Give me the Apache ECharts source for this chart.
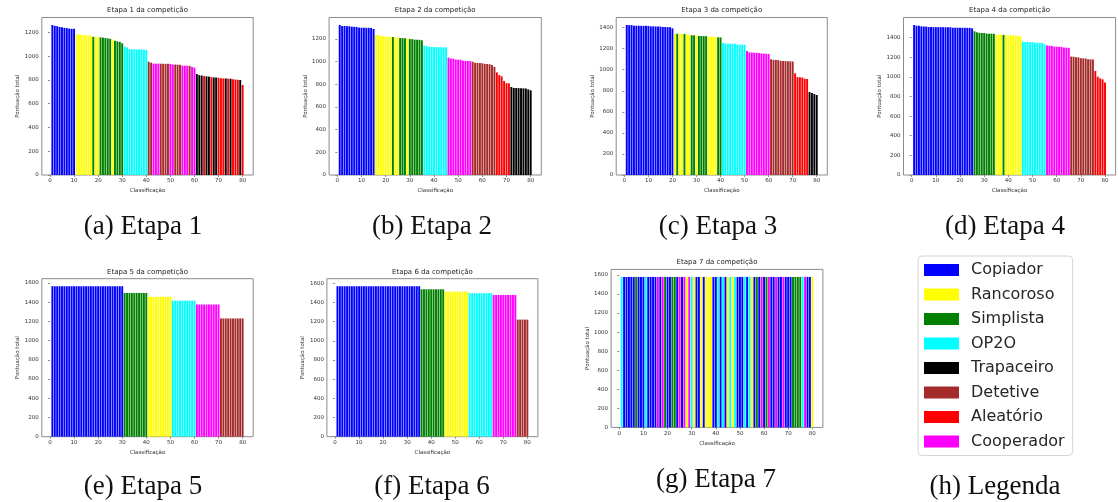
<!DOCTYPE html>
<html><head><meta charset="utf-8">
<script src="https://cdn.jsdelivr.net/npm/echarts@6/dist/echarts.min.js"></script>
<style>html,body{margin:0;padding:0;background:#fff}#c{width:1118px;height:502px}</style>
</head><body><div id="c"></div>
<script>
// ---------------- DATA ----------------
const legendCodes = ['C','R','S','O','T','D','A','K'];
const strategyNames = {C:'Copiador',R:'Rancoroso',S:'Simplista',O:'OP2O',T:'Trapaceiro',D:'Detetive',A:'Aleatório',K:'Cooperador'};
const strategyColors = {C:'#0000ff',R:'#ffff00',S:'#008000',O:'#00ffff',T:'#000000',D:'#a52a2a',A:'#ff0000',K:'#ff00ff'};

const ranks = [1,2,3,4,5,6,7,8,9,10,11,12,13,14,15,16,17,18,19,20,21,22,23,24,25,26,27,28,29,30,31,32,33,34,35,36,37,38,39,40,
  41,42,43,44,45,46,47,48,49,50,51,52,53,54,55,56,57,58,59,60,61,62,63,64,65,66,67,68,69,70,71,72,73,74,75,76,77,78,79,80];
const xTicks = [0,10,20,30,40,50,60,70,80];
const yTicks1200 = [0,200,400,600,800,1000,1200];
const yTicks1400 = [0,200,400,600,800,1000,1200,1400];
const yTicks1600 = [0,200,400,600,800,1000,1200,1400,1600];

const stage1Strategy = ['C','C','C','C','C','C','C','C','C','C',
  'R','R','R','R','R','R','R','S','R','R',
  'S','S','S','S','S','R','S','S','S','S',
  'O','O','O','O','O','O','O','O','O','O',
  'D','D','K','K','K','D','D','D','D','K',
  'K','D','D','D','K','K','K','D','K','K',
  'T','T','T','A','T','T','A','T','T','A',
  'A','A','T','A','T','A','A','A','T','A'];
const stage1Score = [1262,1255,1252,1245,1243,1238,1236,1232,1230,1230,
  1186,1182,1180,1178,1176,1175,1170,1163,1162,1160,
  1158,1156,1152,1150,1146,1140,1130,1125,1120,1108,
  1080,1072,1058,1058,1057,1056,1056,1055,1054,1052,
  953,945,937,937,937,936,936,935,935,934,
  929,929,928,928,920,920,919,918,909,903,
  849,840,837,832,830,828,823,821,820,818,
  814,813,812,811,810,805,803,801,799,757];

const stage2Strategy = ['C','C','C','C','C','C','C','C','C','C',
  'C','C','C','C','C','R','R','R','R','R',
  'R','R','S','R','R','S','S','S','R','S',
  'S','S','S','S','S','O','O','O','O','O',
  'O','O','O','O','O','K','K','K','K','K',
  'K','K','K','K','K','D','D','D','D','D',
  'D','D','D','D','D','A','A','A','A','A',
  'A','T','T','T','T','T','T','T','T','T'];
const stage2Score = [1323,1314,1314,1313,1312,1308,1307,1306,1300,1299,
  1299,1298,1298,1297,1288,1235,1233,1226,1225,1221,
  1220,1219,1217,1214,1213,1208,1207,1206,1205,1199,
  1198,1194,1193,1192,1188,1141,1139,1129,1129,1128,
  1128,1127,1127,1126,1126,1035,1027,1025,1018,1017,
  1016,1008,1007,1006,1005,999,990,988,987,986,
  980,979,977,970,953,905,882,870,829,810,
  808,776,768,767,766,766,764,763,755,747];

const stage3Strategy = ['C','C','C','C','C','C','C','C','C','C',
  'C','C','C','C','C','C','C','C','C','C',
  'R','S','R','R','S','R','R','S','S','R',
  'S','S','S','S','R','R','R','R','S','S',
  'O','O','O','O','O','O','O','O','O','O',
  'K','K','K','K','K','K','K','K','K','K',
  'D','D','D','D','D','D','D','D','D','D',
  'A','A','A','A','A','A','T','T','T','T'];
const stage3Score = [1425,1424,1424,1418,1418,1418,1417,1417,1417,1416,
  1412,1412,1411,1411,1410,1406,1406,1405,1404,1393,
  1343,1342,1342,1341,1340,1336,1334,1328,1327,1326,
  1321,1320,1320,1319,1315,1314,1313,1312,1308,1307,
  1254,1249,1248,1248,1247,1247,1239,1238,1238,1237,
  1178,1165,1163,1162,1161,1160,1155,1153,1152,1150,
  1099,1094,1093,1092,1084,1083,1082,1081,1080,1078,
  966,930,929,926,915,912,788,779,769,760];

const stage4Strategy = ['C','C','C','C','C','C','C','C','C','C',
  'C','C','C','C','C','C','C','C','C','C',
  'C','C','C','C','C','S','S','S','S','S',
  'S','S','S','S','R','R','R','S','R','R',
  'R','R','R','R','R','O','O','O','O','O',
  'O','O','O','O','O','K','K','K','K','K',
  'K','K','K','K','K','D','D','D','D','D',
  'D','D','D','D','D','A','A','A','A','A'];
const stage4Score = [1528,1521,1520,1514,1513,1512,1507,1507,1506,1506,
  1506,1506,1506,1505,1505,1505,1500,1500,1500,1500,
  1500,1499,1499,1499,1494,1464,1454,1448,1447,1446,
  1441,1440,1440,1438,1430,1429,1428,1427,1424,1423,
  1423,1422,1421,1418,1410,1358,1355,1355,1354,1354,
  1348,1347,1347,1345,1331,1318,1317,1316,1308,1307,
  1306,1305,1298,1297,1296,1206,1205,1199,1198,1189,
  1188,1187,1179,1178,1177,1060,1002,985,975,941];

const stage5Strategy = ['C','C','C','C','C','C','C','C','C','C',
  'C','C','C','C','C','C','C','C','C','C',
  'C','C','C','C','C','C','C','C','C','C',
  'S','S','S','S','S','S','S','S','S','S',
  'R','R','R','R','R','R','R','R','R','R',
  'O','O','O','O','O','O','O','O','O','O',
  'K','K','K','K','K','K','K','K','K','K',
  'D','D','D','D','D','D','D','D','D','D'];
const stage5Score = [1565,1565,1565,1565,1565,1565,1565,1565,1565,1565,
  1565,1565,1565,1565,1565,1565,1565,1565,1565,1565,
  1565,1565,1565,1565,1565,1565,1565,1565,1565,1565,
  1495,1495,1495,1495,1495,1495,1495,1495,1495,1495,
  1455,1455,1455,1455,1455,1455,1455,1455,1455,1455,
  1415,1415,1415,1415,1415,1415,1415,1415,1415,1415,
  1375,1375,1375,1375,1375,1375,1375,1375,1375,1375,
  1230,1230,1230,1230,1230,1230,1230,1230,1230,1230];

const stage6Strategy = ['C','C','C','C','C','C','C','C','C','C',
  'C','C','C','C','C','C','C','C','C','C',
  'C','C','C','C','C','C','C','C','C','C',
  'C','C','C','C','C','S','S','S','S','S',
  'S','S','S','S','S','R','R','R','R','R',
  'R','R','R','R','R','O','O','O','O','O',
  'O','O','O','O','O','K','K','K','K','K',
  'K','K','K','K','K','D','D','D','D','D'];
const stage6Score = [1569,1569,1569,1569,1569,1569,1569,1569,1569,1569,
  1569,1569,1569,1569,1569,1569,1569,1569,1569,1569,
  1569,1569,1569,1569,1569,1569,1569,1569,1569,1569,
  1569,1569,1569,1569,1569,1537,1537,1537,1537,1537,
  1537,1537,1537,1537,1537,1513,1513,1513,1513,1513,
  1513,1513,1513,1513,1513,1496,1496,1496,1496,1496,
  1496,1496,1496,1496,1496,1478,1478,1478,1478,1478,
  1478,1478,1478,1478,1478,1221,1221,1221,1221,1221];

const stage7Strategy = ['O','C','C','C','C','C','S','C','C','C',
  'O','C','C','C','C','K','C','K','S','C',
  'C','S','S','C','K','C','K','R','K','O',
  'R','C','C','R','C','R','R','R','C','C',
  'O','C','O','C','R','O','R','O','C','C',
  'C','O','C','O','R','C','S','C','K','C',
  'S','K','C','C','K','C','C','K','C','C',
  'C','S','S','S','S','O','K','C','C','R'];
const stage7Score = [1579,1579,1579,1579,1579,1579,1579,1579,1579,1579,
  1579,1579,1579,1579,1579,1579,1579,1579,1579,1579,
  1579,1579,1579,1579,1579,1579,1579,1579,1579,1579,
  1579,1579,1579,1579,1579,1579,1579,1579,1579,1579,
  1579,1579,1579,1579,1579,1579,1579,1579,1579,1579,
  1579,1579,1579,1579,1579,1579,1579,1579,1579,1579,
  1579,1579,1579,1579,1579,1579,1579,1579,1579,1579,
  1579,1579,1579,1579,1579,1579,1579,1579,1579,1579];

const panelTitles = ['Etapa 1 da competição','Etapa 2 da competição','Etapa 3 da competição','Etapa 4 da competição',
  'Etapa 5 da competição','Etapa 6 da competição','Etapa 7 da competição'];
const captions = ['(a) Etapa 1','(b) Etapa 2','(c) Etapa 3','(d) Etapa 4','(e) Etapa 5','(f) Etapa 6','(g) Etapa 7','(h) Legenda'];
const xName = 'Classificação';
const yName = 'Pontuação total';

// ---------------- LAYOUT ----------------
const stages = [
  {strat: stage1Strategy, score: stage1Score, yTicks: yTicks1200},
  {strat: stage2Strategy, score: stage2Score, yTicks: yTicks1200},
  {strat: stage3Strategy, score: stage3Score, yTicks: yTicks1400},
  {strat: stage4Strategy, score: stage4Score, yTicks: yTicks1400},
  {strat: stage5Strategy, score: stage5Score, yTicks: yTicks1600},
  {strat: stage6Strategy, score: stage6Score, yTicks: yTicks1600},
  {strat: stage7Strategy, score: stage7Score, yTicks: yTicks1600}
];
const boxes = [
  {l:41.8, t:17.5, w:211.4, h:157.5},
  {l:329.1, t:17.5, w:212.2, h:157.5},
  {l:616.2, t:17.5, w:211.1, h:157.5},
  {l:903.5, t:17.5, w:212.1, h:157.5},
  {l:41.8, t:278.7, w:211.4, h:158},
  {l:326.9, t:278.7, w:211, h:158},
  {l:611.1, t:269.4, w:211.8, h:158}
];
const capPos = [[143,227],[432,227],[718,227],[1005,227],[143,487],[432,487],[716,480],[995,487]];

const FONT = 'DejaVu Sans';
const SERIF = 'Liberation Serif';
const axisGray = '#8c8c8c';
const txt = '#333';
const plain = v => String(v);

const option = {
  backgroundColor: '#fff',
  animation: false,
  title: [],
  grid: [], xAxis: [], yAxis: [], series: [],
  legend: {
    orient: 'vertical', left: 918, top: 256,
    padding: [6, 8, 6, 6],
    borderColor: '#d4d4d4', borderWidth: 1, borderRadius: 4,
    icon: 'rect', itemWidth: 35, itemHeight: 12, itemGap: 8.5,
    selectedMode: false,
    textStyle: {fontFamily: FONT, fontSize: 16, color: '#262626', padding: [0, 0, 0, 7]},
    data: legendCodes.map(c => strategyNames[c])
  }
};

stages.forEach((st, i) => {
  const b = boxes[i];
  option.grid.push({left: b.l, top: b.t, width: b.w, height: b.h, show: true,
    borderColor: axisGray, borderWidth: 1, backgroundColor: 'rgba(0,0,0,0)'});
  option.xAxis.push({
    gridIndex: i, type: 'value', min: -3.39, max: 84.39,
    axisLine: {show: false}, splitLine: {show: false},
    axisTick: {show: true, length: 2, lineStyle: {color: axisGray}, customValues: xTicks},
    axisLabel: {customValues: xTicks, formatter: plain, fontSize: 5.5, color: txt, margin: 3, fontFamily: FONT},
    name: xName, nameLocation: 'middle', nameGap: 13,
    nameTextStyle: {fontSize: 5.5, color: txt, fontFamily: FONT}
  });
  option.yAxis.push({
    gridIndex: i, type: 'value', min: 0, max: Math.max(...st.score) * 1.05,
    axisLine: {show: false}, splitLine: {show: false},
    axisTick: {show: true, length: 2, lineStyle: {color: axisGray}, customValues: st.yTicks},
    axisLabel: {customValues: st.yTicks, formatter: plain, fontSize: 5.5, color: txt, margin: 3, fontFamily: FONT},
    name: yName, nameLocation: 'middle', nameGap: 19,
    nameTextStyle: {fontSize: 5.5, color: txt, fontFamily: FONT}
  });
  option.series.push({
    type: 'bar', xAxisIndex: i, yAxisIndex: i, barWidth: '80%', silent: true,
    data: ranks.map((r, k) => [r, st.score[k]]),
    itemStyle: {color: p => strategyColors[st.strat[p.dataIndex]]}
  });
  option.title.push({
    text: panelTitles[i], left: b.l + b.w / 2, top: b.t - 10.5, textAlign: 'center', padding: 0,
    textStyle: {fontFamily: FONT, fontSize: 7, fontWeight: 'normal', color: '#222'}
  });
});

captions.forEach((c, i) => {
  option.title.push({
    text: c, left: capPos[i][0], top: capPos[i][1] - 14, textAlign: 'center', padding: 0,
    textStyle: {fontFamily: SERIF, fontSize: 27, fontWeight: 'normal', color: '#111'}
  });
});

legendCodes.forEach(c => {
  option.series.push({type: 'line', name: strategyNames[c], xAxisIndex: 0, yAxisIndex: 0, data: [],
    itemStyle: {color: strategyColors[c]}, lineStyle: {color: strategyColors[c]}});
});

const chart = echarts.init(document.getElementById('c'), null, {renderer: 'canvas'});
chart.setOption(option);
</script>
</body></html>
